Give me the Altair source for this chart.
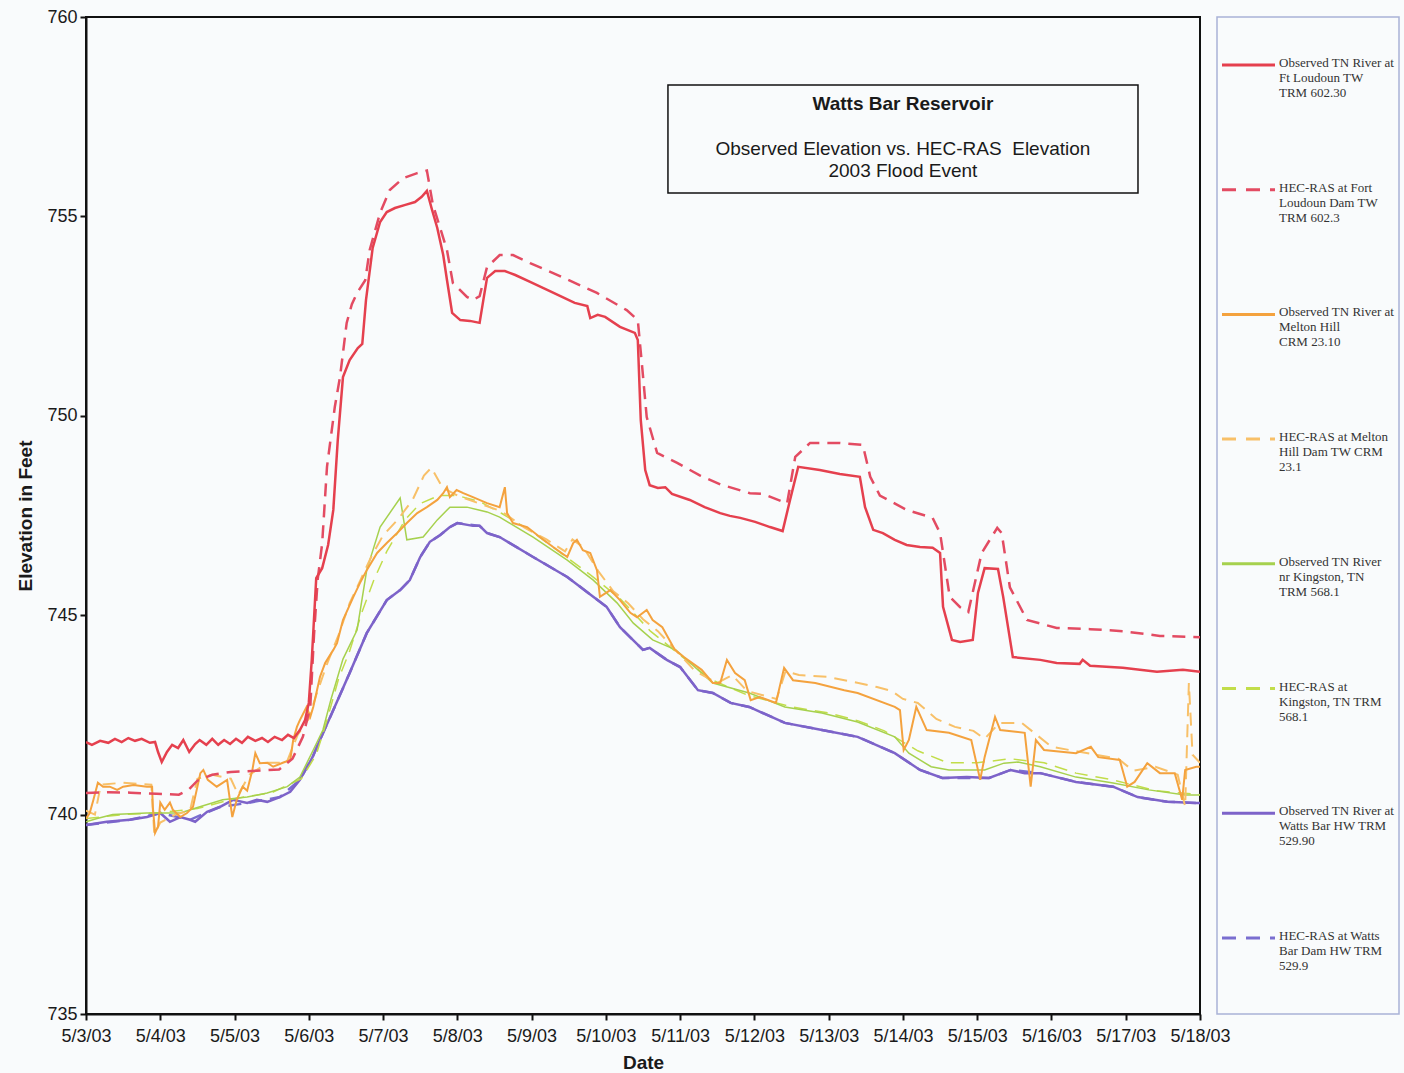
import altair as alt
import pandas as pd

# ---------------------------------------------------------------------------
# Watts Bar Reservoir, May 2003 flood: observed vs. HEC-RAS water surface.
# Each series: time in days after 5/3/03 00:00 and elevation in feet.
# ---------------------------------------------------------------------------

# Observed TN River at Ft Loudoun TW, TRM 602.30
FTL_OBS_DAY = [0.0, 0.08, 0.19, 0.30, 0.39, 0.48, 0.57, 0.66, 0.75, 0.86, 0.93, 0.97, 1.02,
               1.09, 1.16, 1.24, 1.31, 1.39, 1.47, 1.53, 1.62, 1.70, 1.78, 1.86, 1.94, 2.02,
               2.10, 2.18, 2.28, 2.37, 2.45, 2.54, 2.64, 2.72, 2.80, 2.88, 2.95, 3.0, 3.04,
               3.10, 3.18, 3.26, 3.33, 3.39, 3.46, 3.55, 3.66, 3.72, 3.77, 3.86, 3.96, 4.05,
               4.16, 4.30, 4.43, 4.52, 4.59, 4.66, 4.73, 4.81, 4.86, 4.93, 5.04, 5.17, 5.30,
               5.35, 5.40, 5.51, 5.64, 5.78, 5.98, 6.21, 6.41, 6.58, 6.75, 6.79, 6.89, 6.99,
               7.19, 7.39, 7.43, 7.47, 7.53, 7.59, 7.70, 7.80, 7.89, 8.13, 8.33, 8.54, 8.67,
               8.81, 9.01, 9.21, 9.38, 9.48, 9.59, 9.88, 10.15, 10.42, 10.49, 10.60, 10.73,
               10.89, 11.05, 11.23, 11.40, 11.50, 11.54, 11.66, 11.77, 11.94, 12.01, 12.10,
               12.28, 12.35, 12.48, 12.85, 13.07, 13.38, 13.42, 13.52, 13.96, 14.42, 14.77, 15.0]
FTL_OBS_ELEV = [741.82, 741.75, 741.85, 741.80, 741.90, 741.82, 741.92, 741.85, 741.90, 741.80,
                741.82, 741.57, 741.32, 741.57, 741.75, 741.67, 741.87, 741.57, 741.77, 741.87,
                741.75, 741.90, 741.75, 741.87, 741.77, 741.90, 741.80, 741.95, 741.85, 741.92,
                741.82, 741.95, 741.87, 742.00, 741.92, 742.12, 742.37, 742.80, 743.88, 745.93,
                746.18, 746.76, 747.64, 749.39, 750.97, 751.40, 751.70, 751.80, 752.90, 754.21,
                754.86, 755.11, 755.21, 755.29, 755.36, 755.49, 755.64, 755.16, 754.71, 754.03,
                753.41, 752.58, 752.40, 752.38, 752.33, 752.90, 753.46, 753.63, 753.63, 753.53,
                753.36, 753.16, 752.98, 752.83, 752.75, 752.45, 752.53, 752.48, 752.23, 752.08,
                751.90, 749.89, 748.64, 748.26, 748.19, 748.21, 748.04, 747.89, 747.71, 747.56,
                747.49, 747.44, 747.34, 747.21, 747.11, 747.89, 748.72, 748.64, 748.54, 748.47,
                747.71, 747.14, 747.06, 746.89, 746.76, 746.71, 746.69, 746.56, 745.21, 744.38,
                744.33, 744.38, 745.56, 746.18, 746.16, 745.46, 743.95, 743.88, 743.80, 743.78,
                743.88, 743.73, 743.68, 743.58, 743.63, 743.58]

# HEC-RAS at Fort Loudoun Dam TW, TRM 602.3
FTL_SIM_DAY = [0.0, 0.3, 0.6, 0.95, 1.25, 1.38, 1.5, 1.7, 1.95, 2.3, 2.6, 2.78, 2.92, 3.02,
               3.07, 3.12, 3.18, 3.245, 3.35, 3.42, 3.51, 3.58, 3.65, 3.76, 3.82, 3.96, 4.09,
               4.27, 4.45, 4.59, 4.67, 4.86, 4.94, 5.13, 5.21, 5.30, 5.40, 5.57, 5.75, 5.98,
               6.29, 6.88, 7.28, 7.43, 7.49, 7.55, 7.69, 7.96, 8.27, 8.54, 8.94, 9.12, 9.44,
               9.55, 9.75, 10.15, 10.46, 10.56, 10.69, 11.05, 11.40, 11.50, 11.63, 11.77,
               11.88, 12.06, 12.27, 12.33, 12.44, 12.67, 13.07, 13.52, 13.96, 14.46, 15.0]
FTL_SIM_ELEV = [740.54, 740.56, 740.55, 740.52, 740.50, 740.62, 740.85, 741.00, 741.07, 741.10,
                741.13, 741.40, 741.95, 742.70, 744.50, 745.90, 746.80, 748.72, 750.22, 750.97,
                752.33, 752.80, 753.08, 753.40, 754.16, 755.09, 755.66, 755.96, 756.08, 756.15,
                755.30, 754.16, 753.33, 752.98, 752.90, 753.00, 753.73, 754.03, 754.03, 753.83,
                753.58, 753.08, 752.65, 752.40, 751.20, 749.97, 749.07, 748.82, 748.50, 748.28,
                748.06, 748.04, 747.80, 748.97, 749.32, 749.32, 749.27, 748.47, 748.00, 747.64,
                747.44, 747.06, 745.46, 745.20, 745.08, 746.56, 747.19, 747.06, 745.70, 744.88,
                744.68, 744.65, 744.60, 744.48, 744.45]

# Observed TN River at Melton Hill, CRM 23.10
MH_OBS_DAY = [0.0, 0.05, 0.10, 0.16, 0.23, 0.32, 0.42, 0.50, 0.64, 0.82, 0.89, 0.90, 0.93,
              0.97, 1.0, 1.06, 1.13, 1.17, 1.27, 1.36, 1.44, 1.54, 1.58, 1.64, 1.76, 1.90,
              1.97, 2.03, 2.11, 2.17, 2.24, 2.28, 2.34, 2.44, 2.52, 2.65, 2.75, 2.79, 2.84,
              2.88, 2.97, 3.02, 3.06, 3.15, 3.22, 3.33, 3.38, 3.46, 3.60, 3.69, 3.78, 3.92,
              4.05, 4.19, 4.32, 4.46, 4.59, 4.73, 4.81, 4.86, 4.90, 4.99, 5.08, 5.21, 5.40,
              5.57, 5.64, 5.67, 5.75, 5.94, 6.11, 6.29, 6.48, 6.56, 6.61, 6.69, 6.79, 6.88,
              6.92, 7.06, 7.19, 7.33, 7.42, 7.55, 7.63, 7.76, 7.93, 8.05, 8.29, 8.44, 8.54,
              8.63, 8.74, 8.87, 8.95, 9.07, 9.29, 9.40, 9.52, 9.82, 10.21, 10.39, 10.89,
              10.96, 11.01, 11.08, 11.18, 11.32, 11.62, 11.92, 12.04, 12.10, 12.24, 12.31,
              12.64, 12.72, 12.79, 12.90, 13.33, 13.53, 13.63, 13.92, 14.02, 14.12, 14.29,
              14.46, 14.66, 14.76, 14.80, 14.95, 15.0]
MH_OBS_ELEV = [739.90, 740.04, 740.37, 740.80, 740.70, 740.70, 740.62, 740.70, 740.74, 740.70,
               740.70, 740.19, 739.54, 739.70, 740.30, 740.12, 740.30, 740.12, 739.94, 740.04,
               740.19, 741.04, 741.12, 740.87, 740.70, 740.87, 739.94, 740.37, 740.70, 740.60,
               741.12, 741.54, 741.29, 741.30, 741.20, 741.30, 741.37, 741.87, 742.20, 742.37,
               742.70, 742.45, 742.70, 743.45, 743.80, 744.13, 744.30, 744.88, 745.46, 745.81,
               746.13, 746.56, 746.81, 747.06, 747.31, 747.56, 747.71, 747.89, 748.06, 748.21,
               747.96, 748.14, 748.06, 747.96, 747.81, 747.71, 748.21, 747.56, 747.31, 747.21,
               746.96, 746.71, 746.46, 746.81, 746.89, 746.63, 746.56, 746.13, 745.46, 745.63,
               745.38, 745.06, 744.95, 745.13, 744.88, 744.70, 744.13, 743.95, 743.63, 743.30,
               743.30, 743.88, 743.55, 743.37, 742.87, 742.95, 742.80, 743.68, 743.37, 743.30,
               743.12, 743.05, 742.70, 742.62, 741.62, 741.87, 742.70, 742.12, 742.05, 741.87,
               740.87, 741.44, 742.45, 742.12, 742.05, 740.70, 741.87, 741.62, 741.54, 741.70,
               741.44, 741.37, 740.70, 740.82, 741.29, 741.04, 741.04, 740.37, 741.12, 741.20,
               741.20]

# HEC-RAS at Melton Hill Dam TW, CRM 23.1
MH_SIM_DAY = [0.0, 0.12, 0.2, 0.5, 0.88, 0.92, 1.0, 1.2, 1.4, 1.5, 1.7, 1.95, 2.05, 2.2, 2.45,
              2.7, 2.85, 3.0, 3.1, 3.25, 3.4, 3.55, 3.7, 3.85, 4.0, 4.2, 4.4, 4.55, 4.65, 4.8,
              5.0, 5.3, 5.6, 5.9, 6.2, 6.45, 6.55, 6.7, 6.9, 7.1, 7.3, 7.5, 7.7, 7.9, 8.2, 8.5,
              8.7, 8.9, 9.1, 9.3, 9.42, 9.6, 10.0, 10.4, 10.65, 10.85, 11.0, 11.2, 11.45, 11.7,
              11.95, 12.1, 12.3, 12.6, 12.8, 13.0, 13.3, 13.6, 13.9, 14.1, 14.4, 14.7, 14.8,
              14.85, 14.9, 15.0]
MH_SIM_ELEV = [740.10, 740.00, 740.75, 740.80, 740.75, 739.50, 739.80, 740.00, 740.10, 740.90,
               741.00, 740.90, 740.50, 741.00, 741.30, 741.30, 742.00, 742.40, 743.00, 743.80,
               744.50, 745.30, 745.90, 746.50, 747.00, 747.40, 747.90, 748.50, 748.70, 748.20,
               748.00, 747.80, 747.60, 747.20, 746.90, 746.60, 746.90, 746.70, 746.10, 745.60,
               745.30, 744.90, 744.60, 744.20, 743.60, 743.30, 743.50, 743.10, 743.00, 742.90,
               743.60, 743.50, 743.45, 743.30, 743.20, 743.10, 742.90, 742.80, 742.40, 742.20,
               742.10, 741.90, 742.30, 742.30, 742.00, 741.70, 741.60, 741.50, 741.40, 741.10,
               741.20, 741.00, 740.20, 743.30, 741.50, 741.30]

# Observed TN River nr Kingston, TN, TRM 568.1
KG_OBS_DAY = [0.0, 0.15, 0.36, 0.82, 1.27, 1.49, 1.84, 2.17, 2.44, 2.71, 2.88, 3.06, 3.19,
              3.30, 3.46, 3.65, 3.78, 3.96, 4.23, 4.32, 4.54, 4.73, 4.90, 5.13, 5.40, 5.57,
              6.02, 6.48, 6.83, 7.15, 7.37, 7.63, 7.94, 8.44, 8.93, 9.41, 9.91, 10.39, 10.89,
              11.08, 11.38, 11.62, 12.10, 12.36, 12.55, 12.85, 13.33, 13.83, 14.31, 14.80, 15.0]
KG_OBS_ELEV = [739.82, 739.90, 740.00, 740.04, 740.04, 740.17, 740.37, 740.44, 740.54, 740.70,
               740.94, 741.62, 742.12, 742.90, 743.90, 744.63, 746.13, 747.21, 747.94, 746.89,
               746.96, 747.39, 747.71, 747.71, 747.59, 747.46, 746.96, 746.38, 745.88, 745.31,
               744.80, 744.38, 744.13, 743.30, 743.05, 742.70, 742.55, 742.32, 741.95, 741.54,
               741.20, 741.12, 741.12, 741.29, 741.32, 741.20, 740.94, 740.79, 740.62, 740.49,
               740.49]

# HEC-RAS at Kingston, TN, TRM 568.1
KG_SIM_DAY = [0.0, 0.5, 1.0, 1.5, 2.0, 2.5, 2.9, 3.1, 3.25, 3.4, 3.55, 3.72, 3.88, 4.05, 4.3,
              4.5, 4.75, 5.0, 5.3, 5.6, 6.0, 6.4, 6.8, 7.2, 7.6, 8.0, 8.4, 8.9, 9.5, 10.0,
              10.4, 10.75, 11.2, 11.6, 12.0, 12.45, 12.9, 13.33, 13.83, 14.4, 15.0]
KG_SIM_ELEV = [739.90, 740.00, 740.05, 740.15, 740.40, 740.55, 740.90, 741.50, 742.40, 743.40,
               744.10, 745.10, 745.90, 746.60, 747.40, 747.80, 748.00, 748.00, 747.85, 747.55,
               747.10, 746.55, 746.00, 745.40, 744.60, 744.00, 743.40, 743.00, 742.70, 742.55,
               742.35, 742.10, 741.60, 741.30, 741.30, 741.40, 741.30, 741.04, 740.87, 740.60,
               740.50]

# Observed TN River at Watts Bar HW, TRM 529.90
WB_OBS_DAY = [0.0, 0.28, 0.59, 0.82, 1.0, 1.13, 1.27, 1.40, 1.47, 1.63, 1.80, 1.98, 2.17,
              2.30, 2.44, 2.61, 2.75, 2.88, 3.05, 3.15, 3.33, 3.55, 3.78, 4.05, 4.23, 4.36,
              4.50, 4.63, 4.77, 4.90, 5.0, 5.21, 5.30, 5.40, 5.57, 6.02, 6.48, 6.83, 7.01,
              7.19, 7.50, 7.59, 7.82, 8.0, 8.24, 8.44, 8.68, 8.93, 9.41, 9.91, 10.39, 10.89,
              11.23, 11.53, 11.86, 12.16, 12.45, 12.64, 12.85, 13.33, 13.83, 14.16, 14.56,
              14.95, 15.0]
WB_OBS_ELEV = [739.74, 739.82, 739.87, 739.94, 740.04, 739.82, 739.94, 739.87, 739.82, 740.07,
               740.19, 740.37, 740.29, 740.37, 740.32, 740.44, 740.57, 740.87, 741.44, 741.87,
               742.62, 743.55, 744.55, 745.38, 745.63, 745.88, 746.46, 746.84, 747.01, 747.21,
               747.31, 747.24, 747.24, 747.06, 746.96, 746.46, 745.96, 745.46, 745.21, 744.70,
               744.13, 744.18, 743.88, 743.70, 743.12, 743.05, 742.80, 742.70, 742.30, 742.12,
               741.95, 741.54, 741.12, 740.92, 740.94, 740.92, 741.12, 741.04, 741.04, 740.82,
               740.70, 740.44, 740.32, 740.29, 740.29]

# HEC-RAS at Watts Bar Dam HW, TRM 529.9 (lies on the observed headwater trace)
WB_SIM_DAY = [0.0, 0.59, 1.0, 1.40, 1.80, 2.17, 2.61, 2.88, 3.05, 3.15, 3.33, 3.55, 3.78,
              4.05, 4.23, 4.36, 4.50, 4.63, 4.77, 4.90, 5.0, 5.30, 5.40, 5.57, 6.02, 6.48,
              6.83, 7.01, 7.19, 7.50, 7.59, 7.82, 8.0, 8.24, 8.44, 8.68, 8.93, 9.41, 9.91,
              10.39, 10.89, 11.23, 11.53, 12.16, 12.45, 12.85, 13.33, 13.83, 14.16, 14.56, 15.0]
WB_SIM_ELEV = [739.74, 739.87, 740.04, 739.87, 740.19, 740.29, 740.44, 740.87, 741.44, 741.87,
               742.62, 743.55, 744.55, 745.38, 745.63, 745.88, 746.46, 746.84, 747.01, 747.21,
               747.31, 747.24, 747.06, 746.96, 746.46, 745.96, 745.46, 745.21, 744.70, 744.13,
               744.18, 743.88, 743.70, 743.12, 743.05, 742.80, 742.70, 742.30, 742.12, 741.95,
               741.54, 741.12, 740.92, 740.92, 741.12, 741.04, 740.82, 740.70, 740.44, 740.32,
               740.29]

# ---------------------------------------------------------------------------
# Series names, legend text and line styles
# ---------------------------------------------------------------------------
SERIES_NAMES = [
    "Observed TN River at Ft Loudoun TW TRM 602.30",
    "HEC-RAS at Fort Loudoun Dam TW TRM 602.3",
    "Observed TN River at Melton Hill CRM 23.10",
    "HEC-RAS at Melton Hill Dam TW CRM 23.1",
    "Observed TN River nr Kingston, TN TRM 568.1",
    "HEC-RAS at Kingston, TN TRM 568.1",
    "Observed TN River at Watts Bar HW TRM 529.90",
    "HEC-RAS at Watts Bar Dam HW TRM 529.9",
]
LEGEND_LABELS = [
    "Observed TN River at\nFt Loudoun TW\nTRM 602.30",
    "HEC-RAS at Fort\nLoudoun Dam TW\nTRM 602.3",
    "Observed TN River at\nMelton Hill\nCRM 23.10",
    "HEC-RAS at Melton\nHill Dam TW CRM\n23.1",
    "Observed TN River\nnr Kingston, TN\nTRM 568.1",
    "HEC-RAS at\nKingston, TN TRM\n568.1",
    "Observed TN River at\nWatts Bar HW TRM\n529.90",
    "HEC-RAS at Watts\nBar Dam HW TRM\n529.9",
]
SERIES_DATA = [
    (FTL_OBS_DAY, FTL_OBS_ELEV), (FTL_SIM_DAY, FTL_SIM_ELEV),
    (MH_OBS_DAY, MH_OBS_ELEV), (MH_SIM_DAY, MH_SIM_ELEV),
    (KG_OBS_DAY, KG_OBS_ELEV), (KG_SIM_DAY, KG_SIM_ELEV),
    (WB_OBS_DAY, WB_OBS_ELEV), (WB_SIM_DAY, WB_SIM_ELEV),
]
SERIES_COLORS = ["#E5404E", "#E34B62", "#F4A23E", "#F8C068",
                 "#A6D14E", "#C2DD4A", "#7D63C9", "#7A6ED0"]
SERIES_DASHED = [False, True, False, True, False, True, False, True]
SERIES_WIDTHS = [2.5, 2.5, 2.0, 2.0, 1.5, 1.5, 2.5, 2.5]
# order in which the traces are stacked (first drawn = bottom)
DRAW_ORDER = [7, 6, 5, 4, 3, 2, 1, 0]
PLOT_DASH = [13, 8]
LEGEND_DASH = [14, 10]

FONT = "Liberation Sans, Arial, Helvetica, sans-serif"
SERIF = "Liberation Serif, Times New Roman, serif"

BASE = pd.Timestamp("2003-05-03")


def iso(days):
    if isinstance(days, (list, tuple)):
        t = BASE + pd.to_timedelta(days, unit="D")
        return list(pd.DatetimeIndex(t).strftime("%Y-%m-%dT%H:%M:%SZ"))
    return (BASE + pd.Timedelta(days=days)).strftime("%Y-%m-%dT%H:%M:%SZ")


def may(day):
    return alt.DateTime(year=2003, month=5, date=day, utc=True)


PLOT_W, PLOT_H = 1114, 997

x_scale = alt.Scale(type="utc", domain=[may(3), may(18)], nice=False)
y_scale = alt.Scale(domain=[735, 760], nice=False, zero=False)

x_axis = alt.Axis(
    title="Date", values=[may(d) for d in range(3, 19)],
    labelExpr="utcFormat(datum.value, '%-m/%-d/%y')",
    grid=False, labelFlush=False, labelOverlap=False,
    tickSize=6, tickWidth=2, tickColor="#111", domainColor="#111", domainWidth=2,
    labelFont=FONT, labelFontSize=18, labelColor="#1a1a1a", labelPadding=7,
    titleFont=FONT, titleFontSize=19, titleFontWeight="bold", titleColor="#1a1a1a",
    titlePadding=8,
)
y_axis = alt.Axis(
    title="Elevation in Feet", values=[735, 740, 745, 750, 755, 760], grid=False,
    tickSize=6, tickWidth=2, tickColor="#111", domainColor="#111", domainWidth=2,
    labelFont=FONT, labelFontSize=18, labelColor="#1a1a1a", labelPadding=3,
    titleFont=FONT, titleFontSize=19, titleFontWeight="bold", titleColor="#1a1a1a",
    titlePadding=11,
)
X_ENC = dict(scale=x_scale, axis=x_axis)
Y_ENC = dict(scale=y_scale, axis=y_axis)

# ---- one line layer per series ----
line_layers = []
for i in DRAW_ORDER:
    days, elev = SERIES_DATA[i]
    df = pd.DataFrame({"date": iso(days), "elev": elev, "series": SERIES_NAMES[i]})
    mark_kw = dict(color=SERIES_COLORS[i], strokeWidth=SERIES_WIDTHS[i], clip=True)
    if SERIES_DASHED[i]:
        mark_kw["strokeDash"] = PLOT_DASH
    line_layers.append(
        alt.Chart(df).mark_line(**mark_kw).encode(
            x=alt.X("date:T", **X_ENC),
            y=alt.Y("elev:Q", **Y_ENC),
        )
    )

# ---- boxed chart title inside the plot area ----
BOX_X = [7.836, 14.165]
BOX_Y = [758.295, 755.587]
box_df = pd.DataFrame({"x": [iso(BOX_X[0])], "x2": [iso(BOX_X[1])],
                       "y": [BOX_Y[0]], "y2": [BOX_Y[1]]})
title_box = alt.Chart(box_df).mark_rect(fillOpacity=0, stroke="#111", strokeWidth=1.5).encode(
    x=alt.X("x:T", **X_ENC), x2="x2:T",
    y=alt.Y("y:Q", **Y_ENC), y2="y2:Q",
)
TITLE_LINES = ["Watts Bar Reservoir", "Observed Elevation vs. HEC-RAS\u00a0 Elevation",
               "2003 Flood Event"]
TITLE_Y = [757.82, 756.69, 756.14]
TITLE_BOLD = [True, False, False]
title_df = pd.DataFrame({"x": [iso(11.0)] * 3, "y": TITLE_Y, "text": TITLE_LINES,
                         "bold": TITLE_BOLD})
title_bold = alt.Chart(title_df).transform_filter("datum.bold").mark_text(
    font=FONT, fontSize=19, fontWeight="bold", color="#1a1a1a", baseline="middle"
).encode(x=alt.X("x:T", **X_ENC), y=alt.Y("y:Q", **Y_ENC), text="text:N")
title_reg = alt.Chart(title_df).transform_filter("!datum.bold").mark_text(
    font=FONT, fontSize=19, color="#1a1a1a", baseline="middle"
).encode(x=alt.X("x:T", **X_ENC), y=alt.Y("y:Q", **Y_ENC), text="text:N")

main = alt.layer(*line_layers, title_box, title_bold, title_reg)

# ---- legend panel to the right of the plot ----
LEGEND_LEFT, LEGEND_RIGHT = 1131, 1313
SAMPLE_X = [1136, 1189]
LABEL_X = 1193
leg_df = pd.DataFrame({"idx": list(range(len(SERIES_NAMES))), "name": SERIES_NAMES,
                       "label": LEGEND_LABELS})
leg_y = alt.Scale(domain=[-0.385, 7.61], reverse=True, nice=False, zero=False)
legend_frame = alt.Chart(pd.DataFrame({"k": [0]})).mark_rect(
    fillOpacity=0, stroke="#A9B3D6", strokeWidth=1.5
).encode(x=alt.value(LEGEND_LEFT), x2=alt.value(LEGEND_RIGHT),
         y=alt.value(0), y2=alt.value(PLOT_H))
legend_lines = alt.Chart(leg_df).mark_rule().encode(
    x=alt.value(SAMPLE_X[0]), x2=alt.value(SAMPLE_X[1]),
    y=alt.Y("idx:Q", scale=leg_y, axis=None),
    color=alt.Color("name:N", scale=alt.Scale(domain=SERIES_NAMES, range=SERIES_COLORS),
                    legend=None),
    strokeDash=alt.StrokeDash(
        "name:N",
        scale=alt.Scale(domain=SERIES_NAMES,
                        range=[LEGEND_DASH if d else [1, 0] for d in SERIES_DASHED]),
        legend=None),
    strokeWidth=alt.StrokeWidth(
        "name:N",
        scale=alt.Scale(domain=SERIES_NAMES, range=[w + 0.5 for w in SERIES_WIDTHS]),
        legend=None),
)
legend_text = alt.Chart(leg_df).mark_text(
    align="left", baseline="top", dy=-8, lineBreak="\n", lineHeight=15,
    font=SERIF, fontSize=13, color="#333333"
).encode(x=alt.value(LABEL_X), y=alt.Y("idx:Q", scale=leg_y, axis=None), text="label:N")

legend = alt.layer(legend_frame, legend_lines, legend_text)

chart = alt.layer(main, legend).resolve_scale(y="independent").properties(
    width=PLOT_W, height=PLOT_H,
    autosize=alt.AutoSizeParams(type="none"),
    padding={"left": 86, "top": 17, "right": 204, "bottom": 59},
    background="#F9FBFC",
).configure_view(stroke="#111", strokeWidth=2)

chart.save("out.html", embed_options={"renderer": "svg", "actions": False})
